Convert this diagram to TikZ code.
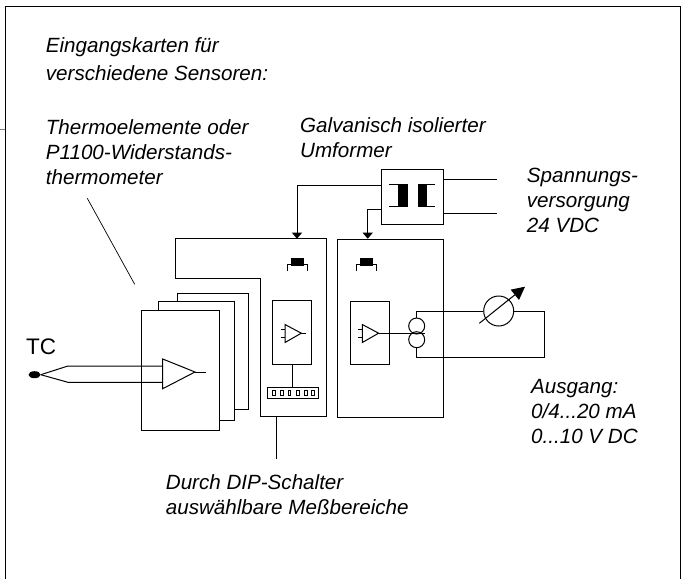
\documentclass[tikz,border=0pt]{standalone}
\usepackage{fontspec}
\setmainfont{Liberation Sans}
\usetikzlibrary{arrows.meta,shapes.geometric}
\tikzset{
    wire/.style={line width=1pt},
    cardbox/.style={draw,line width=1pt,fill=white,anchor=north west,inner sep=0pt},
    arrowin/.style={wire,-{Triangle[length=6,width=10]}},
    caption/.style={anchor=base west,align=left,inner sep=0pt,font=\fontsize{20.6}{25}\selectfont\itshape},
}
\begin{document}
\begin{tikzpicture}[x=1pt,y=-1pt]
        \useasboundingbox (0,0) rectangle (683,579);
        %% frame
        \draw[wire] (5,579) -- (5,6.5) -- (680,6.5) -- (680,579);
        \draw[gray,line width=0.6pt] (0,129) -- (5,129);
        %% labels
        \node[caption] (kartentxt) at (45.7,52.5) {Eingangskarten für};
        \node[caption] (sensortxt) at (45.7,80.5) {verschiedene Sensoren:};
        \node[caption] (thermotxt) at (45.7,184.5) {Thermoelemente oder\\P1100-Widerstands-\\thermometer};
        \node[caption] (umformtxt) at (300,157.8) {Galvanisch isolierter\\Umformer};
        \node[caption] (versorgtxt) at (526.7,232) {Spannungs-\\versorgung\\24 VDC};
        \node[caption] (ausgangtxt) at (531,443) {Ausgang:\\0/4...20 mA\\0...10 V DC};
        \node[caption] (diptxt) at (165.7,514) {Durch DIP-Schalter\\auswählbare Meßbereiche};
        \node[anchor=base west,inner sep=0pt,font=\fontsize{22.5}{25}\selectfont] (tctxt) at (26,354) {TC};
        %% input cards
        \node[cardbox,minimum width=71,minimum height=116.8] (cardc) at (177,292.5) {};
        \node[cardbox,minimum width=76,minimum height=119.3] (cardb) at (157.7,300.7) {};
        \node[cardbox,minimum width=78.5,minimum height=120] (carda) at (140.5,309.5) {};
        \coordinate (leadtop) at (87.3,198.3);
        \coordinate (leadend) at (134.7,284.3);
        \draw[line width=0.7pt] (leadtop) -- (leadend);
        %% thermocouple and amplifier
        \node[ellipse,fill=black,minimum width=12,minimum height=7,inner sep=0pt] (tc) at (34.5,374.7) {};
        \coordinate (ampa) at (162.7,359);
        \coordinate (ampb) at (162.7,388.7);
        \coordinate (ampc) at (195,372);
        \coordinate (ampout) at (206,372);
        \draw[wire] (ampa) -- (ampb) -- (ampc) -- cycle;
        \draw[wire] (ampc) -- (ampout);
        \draw[wire] (tc.east) -- (68,366) -- (ampa |- 0,366);
        \draw[wire] (tc.east) -- (68,382.3) -- (ampa |- 0,382.3);
        %% selector card
        \coordinate (sela) at (175.7,238.7);
        \coordinate (selb) at (326.7,238.7);
        \coordinate (selc) at (326.7,416.7);
        \coordinate (seld) at (260,416.7);
        \coordinate (sele) at (260,278.3);
        \coordinate (self) at (175.7,278.3);
        \draw[wire] (sela) -- (selb) -- (selc) -- (seld) -- (sele) -- (self) -- cycle;
        \node[cardbox,minimum width=39,minimum height=63.4] (selamp) at (272.3,300.3) {};
        \node[cardbox,minimum width=51,minimum height=11.6] (dip) at (267.3,386.7) {};
        \draw[wire] (selamp.south) -- (selamp.south |- dip.north);
        \foreach \x in {274,282,289.5,298,306,313} \draw[line width=0.7pt] (\x-1.3,390.5) rectangle (\x+1.3,395.5);
        \coordinate (dipfoot) at (276.2,416.7);
        \coordinate (diplead) at (276.2,459.3);
        \draw[wire] (dipfoot) -- (diplead);
        %% output card
        \node[cardbox,minimum width=106.6,minimum height=178] (outcard) at (336.7,238.7) {};
        \node[cardbox,minimum width=38.7,minimum height=63] (outamp) at (350,300.7) {};
        %% small amplifiers and jumpers
        \foreach \x in {285,362.3} {
            \draw[wire] (\x,324.5) -- (\x,342.5) -- (\x+16.3,333.2) -- cycle;
            \draw[wire] (\x-4.5,329.3) -- (\x,329.3);
            \draw[wire] (\x-4.5,337.5) -- (\x,337.5);
        }
        \draw[wire] (301.3,333.2) -- (305.7,333.2);
        \foreach \x in {297.5,366.4} {
            \fill (\x-6.6,258.3) rectangle (\x+6.6,266);
            \draw[wire] (\x-10,271) -- (\x-10,264.5) -- (\x+10,264.5) -- (\x+10,271);
        }
        %% transformer
        \node[cardbox,minimum width=62,minimum height=55] (xfmr) at (381.3,168.7) {};
        \fill (398.3,184) rectangle (407.7,206.7);
        \fill (418.3,184) rectangle (427.3,206.7);
        \draw[wire] (389,184) -- (407.7,184);
        \draw[wire] (389,206.7) -- (407.7,206.7);
        \draw[wire] (418.3,184) -- (435,184);
        \draw[wire] (418.3,206.7) -- (435,206.7);
        \coordinate (supa) at (496.7,179);
        \coordinate (supb) at (496.7,213.7);
        \draw[wire] (xfmr.east |- supa) -- (supa);
        \draw[wire] (xfmr.east |- supb) -- (supb);
        \draw[arrowin] (xfmr.west |- 0,185) -- (297,185) -- (297,238.7);
        \draw[arrowin] (xfmr.west |- 0,209) -- (367.7,209) -- (367.7,238.7);
        %% current source and meter
        \node[draw,circle,line width=1pt,minimum size=16,inner sep=0pt] (srca) at (416.7,326) {};
        \node[draw,circle,line width=1pt,minimum size=16,inner sep=0pt] (srcb) at (416.7,339.7) {};
        \node[draw,circle,line width=1pt,minimum size=30,inner sep=0pt] (meter) at (498.7,311) {};
        \coordinate (srcmid) at (424.7,333);
        \coordinate (loopb) at (544,357.3);
        \draw[wire] (378.6,333) -- (srcmid);
        \draw[wire] (srca.north) |- (meter.west);
        \draw[wire] (meter.east) -| (loopb) -- (srcb.south |- loopb) -- (srcb.south);
        \coordinate (needlea) at (479.3,323.3);
        \coordinate (needleb) at (525,286.7);
        \draw[wire,-{Triangle[length=13,width=13]}] (needlea) -- (needleb);
    \end{tikzpicture}
\end{document}
